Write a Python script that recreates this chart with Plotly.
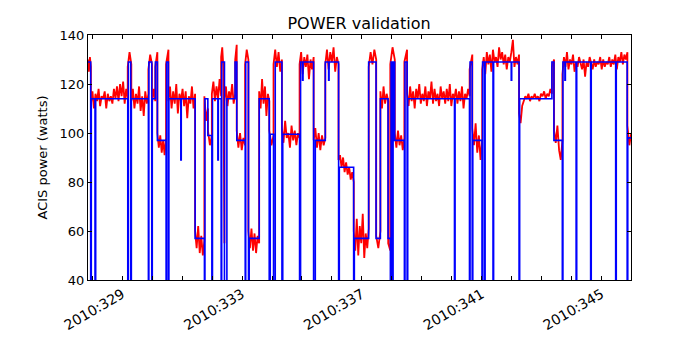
import numpy as np
import plotly.graph_objects as go

# x axis is day of year 2010
day_ticks = list(range(328, 346))
day_labels = ["2010:%d" % d if d in (329, 333, 337, 341, 345) else "" for d in day_ticks]

# Model (blue step function): switch times and power after each switch (0 = off)
model_switch = [
    327.85, 327.943, 327.963, 328.087, 328.11, 329.181, 329.201, 329.281, 329.301, 329.870,
    329.886, 329.983, 330.0, 330.104, 330.171, 330.462, 330.478, 330.538, 330.555, 330.953,
    330.968, 331.431, 331.742, 331.759, 331.856, 331.99, 332.01, 332.191, 332.206, 332.301,
    332.318, 332.411, 332.492, 332.766, 332.823, 333.104, 333.121, 333.214, 333.237, 333.572,
    333.906, 333.94, 334.05, 334.107, 334.331, 334.358, 334.92, 334.953, 335.02, 335.035,
    335.388, 335.445, 335.779, 335.89, 335.905, 336.224, 336.247, 336.726, 336.749, 337.227,
    337.475, 337.619, 337.876, 337.953, 337.977, 338.02, 338.043, 338.097, 338.421, 338.441,
    338.512, 338.532, 340.094, 340.114, 340.595, 340.615, 340.686, 340.706, 341.013, 341.033,
    341.097, 341.117, 341.381, 341.401, 341.99, 342.005, 342.251, 342.271, 343.348, 343.415,
    343.696, 343.716, 343.783, 343.798, 344.157, 344.177, 344.642, 344.662, 345.478, 345.498,
    345.862, 345.882, 346.0,
]
model_power = [
    129, 0, 114, 0, 114, 0, 129, 0, 114, 0,
    129, 0, 114, 129, 97, 0, 129, 0, 114, 89,
    114, 57, 0, 114, 99, 0, 114, 89, 114, 0,
    129, 0, 114, 129, 97, 0, 129, 0, 57, 114,
    0, 99.5, 0, 129, 0, 99.5, 0, 129, 121.5, 129,
    0, 97, 129, 121.5, 129, 0, 86, 0, 57, 129,
    57, 114, 57, 0, 129, 0, 129, 97, 0, 129,
    0, 114, 0, 114, 0, 129, 0, 97, 0, 129,
    0, 129, 0, 129, 121.5, 129, 0, 114, 129, 97,
    0, 129, 121.5, 129, 0, 129, 0, 129, 0, 129,
    0, 98, 98,
]

# Telemetry (red): block edges and the readings inside each block
telem_edges = [
    327.85, 327.95, 329.18, 329.30, 329.87, 329.99, 330.10, 330.17, 330.46, 330.54,
    331.43, 331.74, 331.86, 331.99, 332.30, 332.41, 332.77, 332.82, 333.10, 333.21,
    333.57, 333.91, 334.05, 334.33, 334.92, 335.39, 335.78, 336.22, 336.73, 337.23,
    337.48, 337.62, 337.88, 337.95, 338.10, 338.42, 338.51, 340.60, 340.69, 341.02,
    342.25, 343.35, 343.42, 343.70, 345.87, 346.0,
]
telem_power = [
    [130, 125, 131, 127],
    [112, 117, 110, 116, 113, 118, 111, 115, 114, 117, 110, 116, 113, 115, 112, 118, 114, 119, 113, 120, 115, 121, 112, 118, 114],
    [127, 133, 128],
    [113, 118, 110, 116, 112, 119, 109, 115, 107, 117, 112, 116],
    [126, 132, 128],
    [112, 118, 113],
    [127, 133],
    [100, 94, 99, 92, 97, 91, 98],
    [128, 134],
    [113, 119, 110, 117, 112, 120, 108, 116, 113, 118, 111, 117, 106, 115, 112, 119, 110, 116],
    [60, 53, 62, 51, 58, 50, 56],
    [115, 105, 110],
    [101, 95, 99],
    [116, 121, 113, 119, 114, 122, 115],
    [131, 135, 127, 55],
    [113, 119, 111, 117, 114, 120, 112, 116],
    [130, 136],
    [101, 94, 100, 93, 98, 95],
    [128, 134, 130],
    [60, 53, 61, 52, 59, 51, 58, 55],
    [117, 110, 122, 112, 119, 107, 116, 113],
    [101, 95, 99],
    [128, 134, 127, 133, 125, 130],
    [102, 96, 105, 98, 100, 94, 103, 97, 101, 95, 100, 98],
    [128, 133, 124, 131, 127, 132, 122, 130, 126, 131],
    [97, 102, 94, 100, 93, 99, 95, 98],
    [128, 134, 126, 133, 129, 135, 125, 131, 128],
    [89, 91, 86, 90, 84, 88, 83, 86, 81, 84, 80],
    [60, 52, 65, 50, 62, 55, 67, 49, 59, 53, 61],
    [127, 133, 128, 134, 130],
    [58, 53, 60],
    [117, 110, 119, 112, 116, 113],
    [55, 52],
    [128, 135, 130],
    [100, 94, 101, 95, 99, 93, 98],
    [129, 134],
    [116, 111, 119, 113, 117, 110, 118, 114, 120, 112, 116, 113, 119, 111, 117, 114, 121, 112, 118, 113, 116,
     111, 119, 114, 117, 112, 118, 113, 120, 111, 116, 114, 118, 112, 117, 113, 119, 110, 116, 114, 118, 115],
    [126, 132],
    [102, 95, 104, 92, 99, 89, 97],
    [126, 131, 124, 133, 128, 132, 125, 134, 129, 131, 127, 135, 130, 133, 128, 132, 126, 131, 129, 133,
     138, 127, 131, 128, 132],
    [108, 104, 111, 113, 115, 114, 116, 113, 115, 114, 116, 114, 115, 113, 116, 115, 117, 114, 116, 115, 118, 116],
    [127, 130],
    [101, 96, 103, 93, 89, 97],
    [124, 131, 127, 133, 126, 130, 128, 132, 125, 129, 127, 131, 128, 126, 130, 123, 129, 127, 131, 128, 126,
     130, 127, 129, 128, 131, 126, 130, 127, 129, 128, 131, 127, 130, 128, 132, 126, 131, 129, 133, 128, 132, 130, 133],
    [103, 95, 100],
]

# spread each block's readings across its time span
telem_x, telem_y = [], []
for i, vals in enumerate(telem_power):
    telem_x.extend(np.linspace(telem_edges[i], telem_edges[i + 1], len(vals)))
    telem_y.extend(vals)

fig = go.Figure()
fig.add_trace(go.Scatter(x=telem_x, y=telem_y, mode="lines",
                         line=dict(color="#ff0000", width=1.8), name="telem"))
fig.add_trace(go.Scatter(x=model_switch, y=model_power, mode="lines",
                         line=dict(color="#0000ff", width=1.6, shape="hv"), name="model"))

# page body adds an 8px offset, so the figure is sized 692x342
fig.update_layout(
    width=692, height=342,
    margin=dict(l=80, r=69, t=27, b=70, autoexpand=False),
    paper_bgcolor="white", plot_bgcolor="white",
    showlegend=False,
    font=dict(family="DejaVu Sans", size=13, color="black"),
    title=dict(text="POWER validation", x=351 / 692, xanchor="center",
               y=1 - 15 / 342, yanchor="middle", font=dict(size=16)),
    xaxis=dict(range=[327.853, 345.99], tickvals=day_ticks, ticktext=day_labels,
               tickangle=-30, ticks="inside", ticklen=4, tickcolor="black",
               tickfont=dict(size=14),
               showline=True, linecolor="black", linewidth=1, mirror="ticks",
               showgrid=False, zeroline=False, automargin=False),
    yaxis=dict(range=[40, 140], tickvals=[40, 60, 80, 100, 120, 140],
               ticks="inside", ticklen=4, tickcolor="black",
               showline=True, linecolor="black", linewidth=1, mirror="ticks",
               showgrid=False, zeroline=False, automargin=False,
               title=dict(text="ACIS power (watts)", standoff=9, font=dict(size=13))),
)

fig.write_html("out.html")
